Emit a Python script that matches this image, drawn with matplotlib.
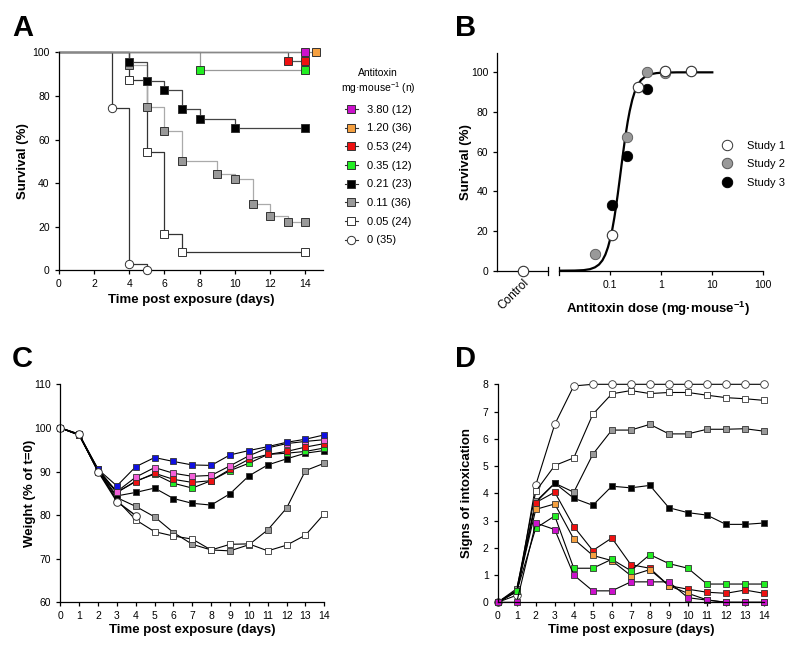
import matplotlib
matplotlib.use("Agg")
import matplotlib.pyplot as plt
from matplotlib.lines import Line2D

plt.rcParams['font.family'] = ['Liberation Sans', 'DejaVu Sans']
plt.rcParams['mathtext.fontset'] = 'custom'
plt.rcParams['mathtext.rm'] = 'Liberation Sans'
plt.rcParams['mathtext.bf'] = 'Liberation Sans:bold'
plt.rcParams['axes.linewidth'] = 0.9
plt.rcParams['xtick.major.width'] = 0.9
plt.rcParams['ytick.major.width'] = 0.9
plt.rcParams['xtick.major.size'] = 3
plt.rcParams['ytick.major.size'] = 3
plt.rcParams['xtick.labelsize'] = 7.5
plt.rcParams['ytick.labelsize'] = 7.5

# ---------------- data ----------------
# A: survival (Kaplan-Meier), event times and survival after each event
km_labels = ['3.80 (12)', '1.20 (36)', '0.53 (24)', '0.35 (12)',
             '0.21 (23)', '0.11 (36)', '0.05 (24)', '0 (35)']
km_t_380 = [14]
km_s_380 = [100]
km_t_120 = [14.6]
km_s_120 = [100]
km_t_053 = [13, 14]
km_s_053 = [95.8, 95.8]
km_t_035 = [8, 14]
km_s_035 = [91.7, 91.7]
km_t_021 = [4, 5, 6, 7, 8, 10, 14]
km_s_021 = [95.7, 87.0, 82.6, 73.9, 69.6, 65.2, 65.2]
km_t_011 = [4, 5, 6, 7, 9, 10, 11, 12, 13, 14]
km_s_011 = [94.4, 75.0, 63.9, 50.0, 44.4, 41.7, 30.6, 25.0, 22.2, 22.2]
km_t_005 = [4, 5, 6, 7, 14]
km_s_005 = [87.5, 54.2, 16.7, 8.3, 8.3]
km_t_0 = [3, 4, 5]
km_s_0 = [74.3, 2.9, 0]

# B: dose response
study1_dose = [0.11, 0.35, 1.2, 3.8]
study1_surv = [17.8, 92.8, 100.5, 100.5]
study2_dose = [0.05, 0.21, 0.53, 1.2]
study2_surv = [8.2, 67.2, 100, 99.5]
study3_dose = [0.11, 0.21, 0.53]
study3_surv = [33, 57.6, 91.4]
control_surv = 0
fit_dose = [0.01, 0.02, 0.03, 0.04, 0.05, 0.06, 0.07, 0.08, 0.09, 0.10, 0.11,
            0.12, 0.13, 0.14, 0.15, 0.16, 0.17, 0.18, 0.19, 0.20, 0.22, 0.24,
            0.27, 0.30, 0.35, 0.40, 0.50, 0.60, 0.80, 1.0, 2.0, 10.0]
fit_surv = [0.0, 0.07, 0.28, 0.78, 1.7, 3.1, 5.2, 8.1, 11.8, 16.2, 21.2,
            26.7, 32.6, 38.5, 44.4, 50.0, 55.3, 60.2, 64.6, 68.6, 75.3, 80.5,
            86.2, 90.0, 93.9, 96.1, 98.2, 99.0, 99.6, 99.8, 100, 100]

# C: weight (% of t=0)
days = list(range(15))
w_blue = [100, 98.6, 90.5, 86.7, 91.1, 93.2, 92.3, 91.5, 91.4, 93.8, 94.8, 95.7, 96.7, 97.4, 98.4]
w_pink = [100, 98.5, 90.3, 85.4, 88.7, 90.9, 89.6, 88.9, 89.1, 91.3, 93.6, 95.4, 96.4, 96.9, 97.3]
w_red = [100, 98.4, 90.0, 85.2, 87.7, 89.6, 88.2, 87.5, 87.9, 90.5, 92.8, 93.9, 94.6, 95.6, 96.4]
w_green = [100, 98.4, 90.6, 85.2, 87.8, 89.4, 87.3, 86.2, 87.9, 90.2, 91.9, 93.9, 94.2, 94.6, 95.4]
w_black = [100, 98.3, 90.2, 84.4, 85.2, 86.2, 83.8, 82.7, 82.3, 84.9, 89.0, 91.5, 92.9, 94.2, 94.8]
w_gray = [100, 98.4, 90.2, 84.0, 82.0, 79.6, 76.0, 73.3, 72.0, 71.8, 73.2, 76.6, 81.6, 90.2, 91.9]
w_white_sq = [100, 98.4, 90.1, 83.5, 78.9, 76.2, 75.2, 74.5, 72.0, 73.3, 73.4, 71.8, 73.1, 75.4, 80.3]
w_white_circ = [100, 98.5, 90.0, 83.1, 79.9]

# D: signs of intoxication
s_white_circ = [0, 0.26, 4.3, 6.53, 7.94, 8, 8, 8, 8, 8, 8, 8, 8, 8, 8]
s_white_sq = [0, 0.45, 4.07, 5.02, 5.3, 6.9, 7.65, 7.77, 7.66, 7.7, 7.7, 7.6, 7.51, 7.47, 7.41]
s_gray = [0, 0.5, 3.7, 4.37, 4.04, 5.43, 6.32, 6.32, 6.53, 6.18, 6.18, 6.35, 6.35, 6.37, 6.28]
s_black = [0, 0.4, 3.66, 4.37, 3.82, 3.56, 4.26, 4.2, 4.29, 3.47, 3.29, 3.2, 2.86, 2.86, 2.91]
s_red = [0, 0.4, 3.66, 4.04, 2.78, 1.9, 2.36, 1.38, 1.25, 0.61, 0.48, 0.37, 0.33, 0.45, 0.33]
s_orange = [0, 0.4, 3.41, 3.61, 2.32, 1.72, 1.53, 0.98, 1.2, 0.61, 0.33, 0.09, 0, 0, 0]
s_green = [0, 0.4, 2.72, 3.17, 1.25, 1.25, 1.58, 1.16, 1.75, 1.42, 1.25, 0.67, 0.67, 0.67, 0.67]
s_magenta = [0, 0, 2.91, 2.67, 1.0, 0.42, 0.42, 0.75, 0.75, 0.75, 0.17, 0.08, 0, 0, 0]

MAG = '#cc11cc'
ORA = '#f5a040'
RED = '#ee1111'
GRN = '#22ee22'
GRY = '#999999'
BLU = '#1010e0'
PNK = '#f25fd8'

fig = plt.figure(figsize=(7.95, 6.46), dpi=100)


def px(x0, y0, x1, y1):
    W, H = 795.0, 646.0
    return [x0 / W, 1 - y1 / H, (x1 - x0) / W, (y1 - y0) / H]


def clean(ax):
    ax.spines['top'].set_visible(False)
    ax.spines['right'].set_visible(False)


label_kw = dict(fontsize=9.5, fontweight='bold')

# ---------------- A ----------------
axA = fig.add_axes(px(58.7, 52.3, 323, 270.3))
clean(axA)
km = [
    (km_t_0, km_s_0, 'white', 'o', '#333333'),
    (km_t_005, km_s_005, 'white', 's', '#333333'),
    (km_t_011, km_s_011, GRY, 's', '#aaaaaa'),
    (km_t_021, km_s_021, 'black', 's', '#444444'),
    (km_t_035, km_s_035, GRN, 's', '#999999'),
    (km_t_053, km_s_053, RED, 's', '#555555'),
    (km_t_120, km_s_120, ORA, 's', '#888888'),
    (km_t_380, km_s_380, MAG, 's', '#888888'),
]
for t, s, fc, mk, lc in km:
    axA.step([0] + t, [100] + s, where='post', color=lc, lw=0.9, clip_on=False)
for t, s, fc, mk, lc in km:
    axA.plot(t, s, ls='none', marker=mk, ms=5.6 if mk == 's' else 6, mfc=fc,
             mec='#333333', mew=0.7, clip_on=False, zorder=4)
axA.set_xlim(0, 15)
axA.set_ylim(0, 100)
axA.set_xticks(range(0, 15, 2))
axA.set_yticks(range(0, 101, 20))
axA.set_xlabel('Time post exposure (days)', **label_kw)
axA.set_ylabel('Survival (%)', **label_kw)
axA.xaxis.set_label_coords(0.503, -0.11)
axA.yaxis.set_label_coords(-0.113, 0.5)

handles = []
for t, s, fc, mk, lc in km[::-1]:
    handles.append(Line2D([], [], color='#333333', lw=0.8, marker=mk, mfc=fc,
                          mec='#333333', mew=0.7, ms=5.6 if mk == 's' else 6))
legA = fig.legend(handles, km_labels, title='Antitoxin\nmg\u00b7mouse$^{-1}$ (n)',
                  loc='upper left', bbox_to_anchor=(341 / 795, 1 - 68 / 646),
                  frameon=False, fontsize=8, title_fontsize=7.5, handlelength=1.2,
                  handletextpad=0.8, labelspacing=0.78, borderpad=0,
                  borderaxespad=0)
legA.get_title().set_multialignment('center')

# ---------------- B ----------------
axBc = fig.add_axes(px(497.3, 52.5, 548.3, 270.7))
axB = fig.add_axes(px(559.3, 52.5, 763.3, 270.7))
for ax in (axBc, axB):
    clean(ax)
    ax.set_ylim(0, 110)
axBc.set_xlim(-1, 1)
axBc.set_yticks(range(0, 101, 20))
axBc.set_xticks([0])
axBc.set_xticklabels(['Control'], rotation=45, ha='right', rotation_mode='anchor',
                     fontsize=8.5)
axBc.tick_params(axis='x', length=0, pad=4)
axBc.plot([0], [control_surv], ls='none', marker='o', ms=7.5, mfc='white',
          mec='#333333', mew=0.8, clip_on=False, zorder=4)
axBc.set_ylabel('Survival (%)', **label_kw)
axBc.yaxis.set_label_coords(-0.50, 0.5)
axBc.plot([1, 1], [-0.018, 0.018], transform=axBc.transAxes, color='black',
          lw=0.9, clip_on=False)

axB.spines['left'].set_visible(False)
axB.set_xscale('log')
axB.set_xlim(0.01, 100)
axB.set_xticks([0.1, 1, 10, 100])
axB.set_xticklabels(['0.1', '1', '10', '100'])
axB.xaxis.set_minor_locator(matplotlib.ticker.NullLocator())
axB.set_yticks([])
axB.plot([0, 0], [-0.018, 0.018], transform=axB.transAxes, color='black',
         lw=0.9, clip_on=False)
axB.plot(fit_dose, fit_surv, color='black', lw=1.6, zorder=2)
axB.plot(study2_dose, study2_surv, ls='none', marker='o', ms=7.5, mfc='#999999',
         mec='#555555', mew=0.6, clip_on=False, zorder=3, label='Study 2')
axB.plot(study3_dose, study3_surv, ls='none', marker='o', ms=7.5, mfc='black',
         mec='black', mew=0.6, clip_on=False, zorder=3, label='Study 3')
axB.plot(study1_dose, study1_surv, ls='none', marker='o', ms=7.5, mfc='white',
         mec='#333333', mew=0.8, clip_on=False, zorder=4, label='Study 1')
axB.set_xlabel('Antitoxin dose (mg\u00b7mouse$^{\\mathbf{-1}}$)', **label_kw)
axB.xaxis.set_label_coords(0.485, -0.135)
hB = [Line2D([], [], ls='none', marker='o', ms=7.5, mfc=c, mec=e, mew=0.7)
      for c, e in (('white', '#333333'), ('#999999', '#555555'), ('black', 'black'))]
fig.legend(hB, ['Study 1', 'Study 2', 'Study 3'], loc='upper left',
           bbox_to_anchor=(721 / 795, 1 - 141 / 646), frameon=False, fontsize=8,
           handlelength=1.0, handletextpad=1.3, labelspacing=0.75, borderpad=0,
           borderaxespad=0)

# ---------------- C ----------------
axC = fig.add_axes(px(60.3, 384.3, 324.3, 602.3))
clean(axC)
series_c = [
    (w_gray, GRY), (w_white_sq, 'white'), (w_black, 'black'), (w_green, GRN),
    (w_red, RED), (w_pink, PNK), (w_blue, BLU),
]
for y, c in series_c:
    axC.plot(days, y, color='black', lw=0.8, marker='s', ms=5, mfc=c,
             mec='#333333', mew=0.6, clip_on=False)
axC.plot(days[:len(w_white_circ)], w_white_circ, color='black', lw=1.0,
         marker='o', ms=5.5, mfc='white', mec='#333333', mew=0.7, clip_on=False)
axC.set_xlim(0, 14)
axC.set_ylim(60, 110)
axC.set_xticks(days)
axC.set_yticks(range(60, 111, 10))
axC.set_xlabel('Time post exposure (days)', **label_kw)
axC.set_ylabel('Weight (% of t=0)', **label_kw)
axC.xaxis.set_label_coords(0.5, -0.1)
axC.yaxis.set_label_coords(-0.092, 0.5)

# ---------------- D ----------------
axD = fig.add_axes(px(497.7, 384.3, 764, 602.3))
clean(axD)
series_d = [
    (s_white_circ, 'white', 'o'), (s_white_sq, 'white', 's'), (s_gray, GRY, 's'),
    (s_black, 'black', 's'), (s_red, RED, 's'), (s_orange, ORA, 's'),
    (s_green, GRN, 's'), (s_magenta, MAG, 's'),
]
for y, c, mk in series_d:
    axD.plot(days, y, color='black', lw=0.8, marker=mk, ms=5 if mk == 's' else 5.5,
             mfc=c, mec='#333333', mew=0.6, clip_on=False)
axD.set_xlim(0, 14)
axD.set_ylim(0, 8)
axD.set_xticks(days)
axD.set_yticks(range(0, 9))
axD.set_xlabel('Time post exposure (days)', **label_kw)
axD.set_ylabel('Signs of intoxication', **label_kw)
axD.xaxis.set_label_coords(0.5, -0.1)
axD.yaxis.set_label_coords(-0.093, 0.5)

# panel letters
for lab, x, y in (('A', 12, 14), ('B', 455, 14), ('C', 12, 345), ('D', 455, 345)):
    fig.text(x / 795, 1 - y / 646, lab, fontsize=21, fontweight='bold',
             ha='left', va='top')

fig.savefig('out.png', dpi=100)
